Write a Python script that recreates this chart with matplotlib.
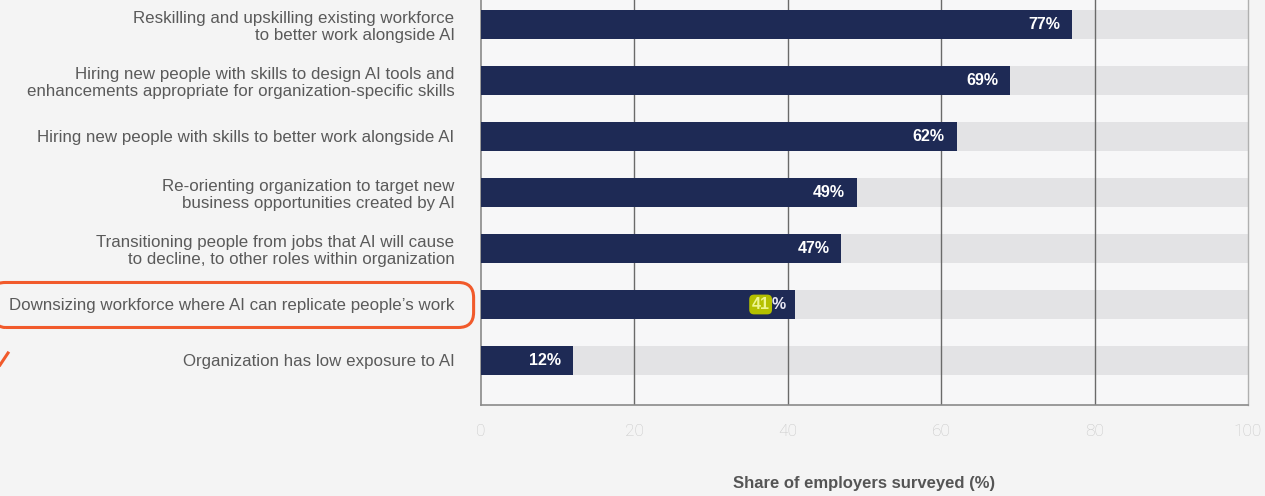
import matplotlib
matplotlib.use('Agg')
import matplotlib.pyplot as plt
from matplotlib.patches import FancyBboxPatch
from matplotlib.lines import Line2D

actions = [
    'Reskilling and upskilling existing workforce\nto better work alongside AI',
    'Hiring new people with skills to design AI tools and\nenhancements appropriate for organization-specific skills',
    'Hiring new people with skills to better work alongside AI',
    'Re-orienting organization to target new\nbusiness opportunities created by AI',
    'Transitioning people from jobs that AI will cause\nto decline, to other roles within organization',
    'Downsizing workforce where AI can replicate people\u2019s work',
    'Organization has low exposure to AI',
]
shares = [77, 69, 62, 49, 47, 41, 12]
highlight_row = 5
xticks = [0, 20, 40, 60, 80, 100]

navy = '#1e2a55'
band = '#e3e3e5'
red = '#f15a2b'

plt.rcParams['font.family'] = ['Liberation Sans', 'DejaVu Sans']

fig = plt.figure(figsize=(12.65, 4.96), dpi=100, facecolor='#f4f4f4')
ax = fig.add_axes([481 / 1265, 91 / 496, 767 / 1265, 405 / 496])
ax.set_facecolor('#f7f7f8')

rows = list(range(len(actions)))
h = 0.535
ax.barh(rows, [100] * len(rows), height=h, color=band, zorder=1)
ax.barh(rows, shares, height=h, color=navy, zorder=3)

for x in xticks[1:-1]:
    ax.axvline(x, color='#6a6a6a', lw=1.0, zorder=2)

ax.set_xlim(0, 100)
ax.set_ylim(6.795, -0.4375)

pct_hl = None
for i, v in enumerate(shares):
    if i == highlight_row:
        pct_hl = ax.annotate('%', (v, i), xytext=(-7, 0), textcoords='offset points',
                             ha='right', va='center', color='#e8e8f5',
                             fontsize=11.5, fontweight='bold', zorder=5)
    else:
        ax.annotate(f'{v}%', (v, i), xytext=(-8.5, 0), textcoords='offset points',
                    ha='right', va='center', color='white',
                    fontsize=11.5, fontweight='bold', zorder=5)

ax.set_yticks(rows)
ax.set_yticklabels(actions, fontsize=12.2, color='#5a5a5a', linespacing=1.2)
ax.set_xticks(xticks)
ax.set_xticklabels([str(x) for x in xticks], fontsize=12.5, color='#c8c8c8',
                   family=['Roboto', 'DejaVu Sans'], fontweight='light')
ax.tick_params(axis='both', length=0)
ax.tick_params(axis='y', pad=19)
ax.tick_params(axis='x', pad=14)

ax.set_xlabel('Share of employers surveyed (%)', fontsize=12, fontweight='bold',
              color='#555555', labelpad=26)

ax.spines['top'].set_visible(False)
for s in ['left', 'bottom']:
    ax.spines[s].set_color('#8a8a8a')
    ax.spines[s].set_linewidth(1.2)
ax.spines['right'].set_color('#b0b0b0')
ax.spines['right'].set_linewidth(1.0)

fig.canvas.draw()
r = fig.canvas.get_renderer()
W, H = fig.bbox.width, fig.bbox.height

# highlighted number sits right before its percent sign
pb = pct_hl.get_window_extent(renderer=r)
ax.annotate(str(shares[highlight_row]), (pb.x0 - 2, (pb.y0 + pb.y1) / 2),
            xycoords='figure pixels', ha='right', va='center',
            color='#eef590', fontsize=11.5, fontweight='bold', zorder=5,
            bbox=dict(boxstyle='round,pad=0.15,rounding_size=0.3', fc='#b4c000', ec='none'))

# red box around the highlighted label
lab = ax.get_yticklabels()[highlight_row]
bb = lab.get_window_extent(renderer=r)
x0, x1 = -10, bb.x1 + 19
y0, y1 = bb.y0 - 14, bb.y1 + 16
box = FancyBboxPatch((x0 / W, y0 / H), (x1 - x0) / W, (y1 - y0) / H,
                     boxstyle='round,pad=0,rounding_size=0.012',
                     transform=fig.transFigure, fc='none', ec=red, lw=2.2,
                     mutation_aspect=W / H)
fig.add_artist(box)
fig.add_artist(Line2D([0 / W, 8 / W], [(H - 365) / H, (H - 353) / H],
                      transform=fig.transFigure, color=red, lw=2.2))

fig.savefig('out.png', dpi=100, facecolor=fig.get_facecolor())
